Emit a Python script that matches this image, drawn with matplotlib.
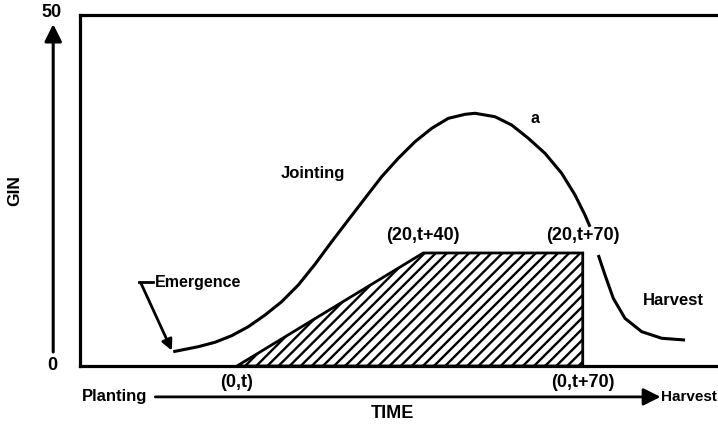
import numpy as np
import matplotlib.pyplot as plt

# ==== data (schematic units: time 0-100, GIN 0-50) ====
curve_x = [14.62, 18.54, 21.16, 23.78, 26.38, 29.00, 31.61, 34.22, 36.83, 39.45, 42.05,
           44.67, 47.29, 49.89, 52.51, 55.13, 57.73, 60.34, 61.91, 65.05, 67.66, 70.27,
           72.88, 75.50, 77.59, 79.15, 79.94,
           np.nan, 81.24, 82.29, 83.59, 85.42, 88.04, 91.18, 94.83]
curve_y = [2.04, 2.75, 3.38, 4.32, 5.60, 7.26, 9.16, 11.54, 14.49, 17.71, 20.80,
           23.89, 26.97, 29.59, 31.95, 33.86, 35.28, 35.85, 36.00, 35.51, 34.33, 32.44,
           30.30, 27.45, 24.36, 21.51, 19.84,
           np.nan, 15.81, 12.96, 9.64, 6.79, 4.89, 3.95, 3.70]

trap_x = [24.6, 53.8, 78.8, 78.8]
trap_y = [0, 16.1, 16.1, 0]
trap_labels = ["(0,t)", "(20,t+40)", "(20,t+70)", "(0,t+70)"]

y_ticks = [0, 50]

plt.rcParams['font.family'] = ['Liberation Sans', 'DejaVu Sans']
plt.rcParams['font.weight'] = 'bold'
plt.rcParams['hatch.linewidth'] = 1.7

fig = plt.figure(figsize=(7.18, 4.25), dpi=100)
ax = fig.add_axes([80 / 718, 59 / 425, 638 / 718, 351 / 425])
ax.set_xlim(0, 100)
ax.set_ylim(0, 50)

for s in ['left', 'top', 'bottom']:
    ax.spines[s].set_linewidth(2.3)
ax.spines['right'].set_visible(False)
ax.set_xticks([])
ax.set_yticks([])

# hatched area
ax.fill(trap_x, trap_y, facecolor='white', edgecolor='black', hatch='///', linewidth=2.0)

# GIN curve
ax.plot(curve_x, curve_y, color='black', lw=2.2, solid_capstyle='butt', solid_joinstyle='round')

# trapezoid corner labels
fs = 13
ax.text(trap_x[0], -2.4, trap_labels[0], ha='center', va='center', fontsize=fs)
ax.text(trap_x[1], 18.6, trap_labels[1], ha='center', va='center', fontsize=fs)
ax.text(trap_x[2], 18.6, trap_labels[2], ha='center', va='center', fontsize=fs)
ax.text(trap_x[3], -2.4, trap_labels[3], ha='center', va='center', fontsize=fs)

# annotations inside
ax.text(36.5, 27.4, "Jointing", ha='center', va='center', fontsize=12)
ax.text(71.3, 35.2, "a", ha='center', va='center', fontsize=11.5)
ax.text(93.0, 9.4, "Harvest", ha='center', va='center', fontsize=12)
ax.text(11.8, 11.9, "Emergence", ha='left', va='center', fontsize=11.5)
ax.plot([9.2, 11.5], [12.0, 12.0], color='black', lw=2.0, clip_on=False)
ax.annotate("", xy=(14.4, 2.2), xytext=(9.5, 11.9),
            arrowprops=dict(arrowstyle='-|>', color='black', lw=2.0,
                            mutation_scale=16, shrinkA=0, shrinkB=0))

# y axis: arrow and labels outside
ax.annotate("", xy=(-4.2, 48.7), xytext=(-4.2, 2.0), xycoords='data',
            arrowprops=dict(arrowstyle='-|>', color='black', lw=2.2,
                            mutation_scale=26, shrinkA=0, shrinkB=0),
            annotation_clip=False)
ax.text(-4.4, y_ticks[1] + 0.3, str(y_ticks[1]), ha='center', va='center', fontsize=13)
ax.text(-4.4, y_ticks[0], str(y_ticks[0]), ha='center', va='center', fontsize=13)
ax.text(-10.2, 25.0, "GIN", ha='center', va='center', rotation=90, fontsize=12.5)

# x axis: arrow and labels below
ax.annotate("", xy=(91.0, -4.4), xytext=(11.8, -4.4), xycoords='data',
            arrowprops=dict(arrowstyle='-|>', color='black', lw=2.0,
                            mutation_scale=26, shrinkA=0, shrinkB=0),
            annotation_clip=False)
ax.text(0.3, -4.4, "Planting", ha='left', va='center', fontsize=12, clip_on=False)
ax.text(91.1, -4.4, "Harvest", ha='left', va='center', fontsize=11, clip_on=False)
ax.text(48.9, -6.8, "TIME", ha='center', va='center', fontsize=13, clip_on=False)

fig.savefig("out.png", dpi=100)
